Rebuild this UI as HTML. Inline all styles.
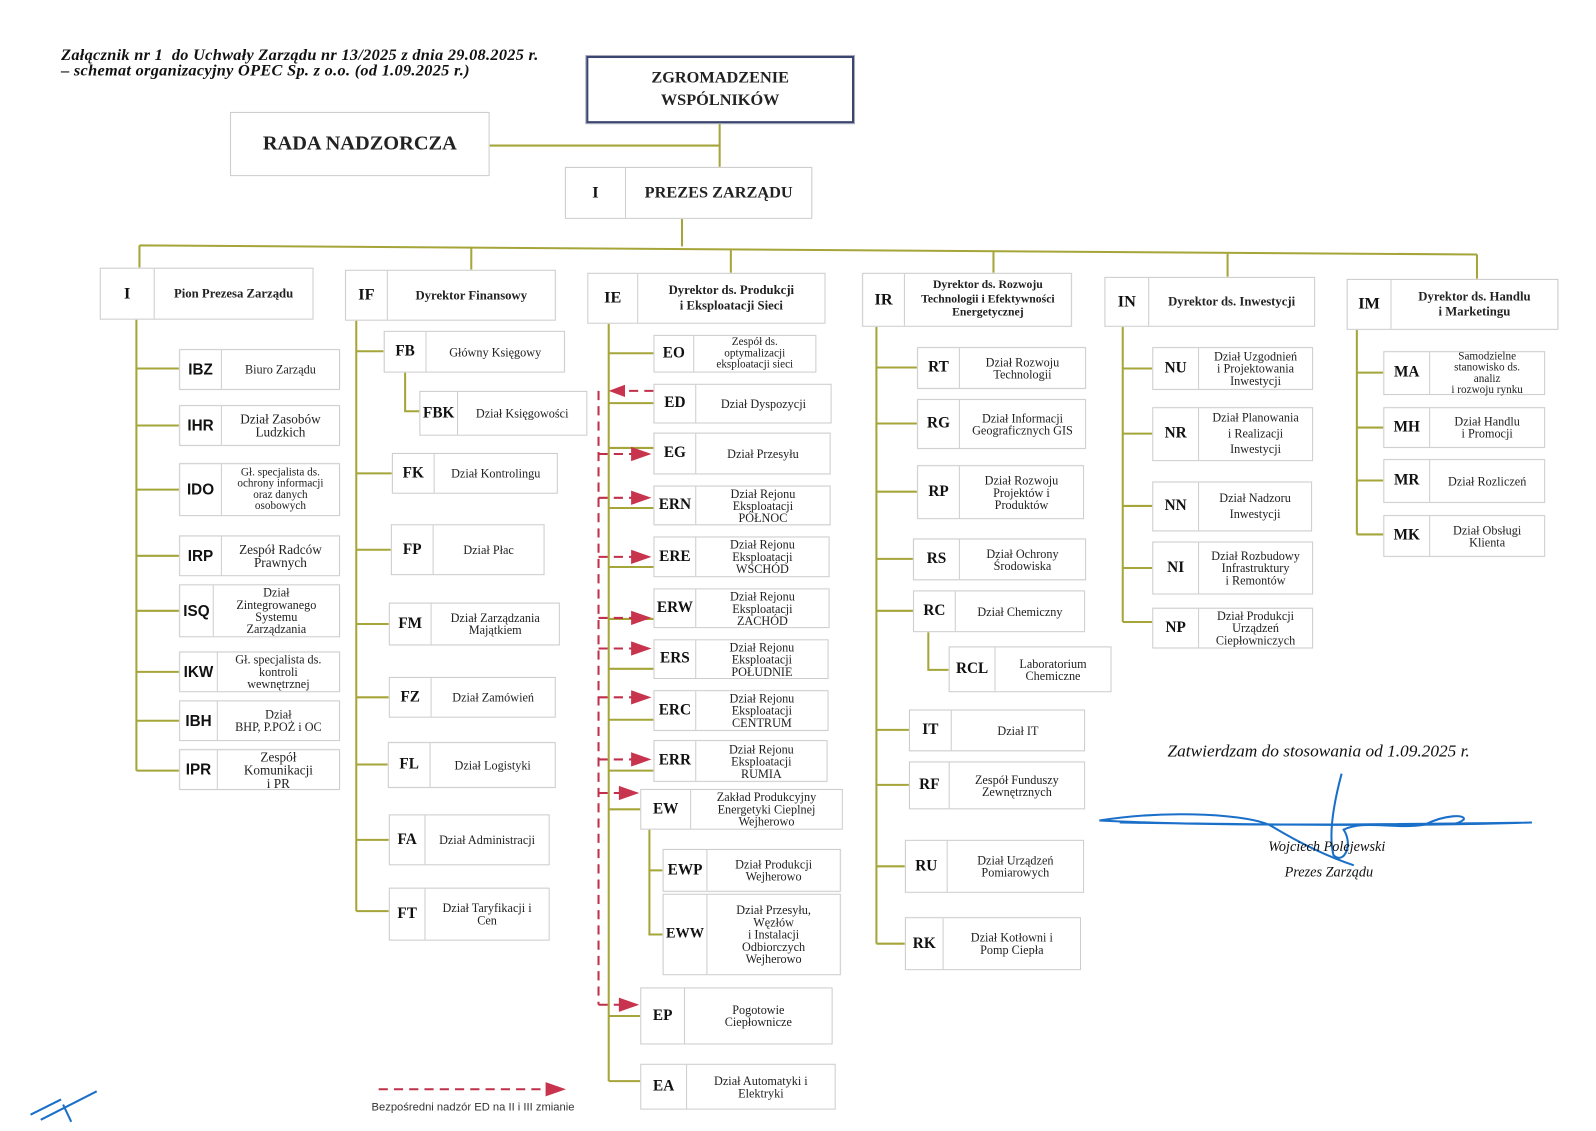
<!DOCTYPE html>
<html><head><meta charset="utf-8">
<style>
html,body{margin:0;padding:0;background:#fff;width:1596px;height:1131px;overflow:hidden}
#c{position:absolute;left:0;top:0;width:1568px;height:1111px;transform:scale(1.0179,1.018);transform-origin:0 0}
.b{position:absolute;display:flex;border:1px solid #cdcdcd;background:#fff;box-sizing:border-box;box-shadow:0 0 1px #e4e4e4}
.b i{font-style:normal;display:flex;align-items:center;justify-content:center;border-right:1px solid #cdcdcd;font:bold 15px "Liberation Serif",serif;color:#111;flex:none}
.b span{flex:1;display:flex;align-items:center;justify-content:center;text-align:center;font:12px/1.0 "Liberation Serif",serif;color:#222;padding:0 3px}
.s i{font-family:"Liberation Sans Narrow","Liberation Sans",sans-serif;font-size:15px}
.h span{font-weight:bold;font-size:12.5px;line-height:1.2}
.h i{font-size:16px}
svg{position:absolute;left:0;top:0}
.t{position:absolute;font-family:"Liberation Serif",serif;color:#111;white-space:nowrap}
</style></head><body><div id="c">
<svg width="1568" height="1111">
<g stroke="#a5a53a" stroke-width="2" fill="none">
<path d="M481 143H707M707 121V164M670 215V242M137 241L1451 250M137 241V263M463 243V265M718 245V268M976 246V268M1206 248V272M1451 250V274"/>
<path d="M134 314V757M134 362H176M134 418H176M134 481H176M134 546H176M134 600H176M134 660H176M134 708H176M134 757H176"/>
<path d="M350 315V895M350 345H377M398 366V404H412M350 465H385M350 540H384M350 613H382M350 685H382M350 751H381M350 825H382M350 895H382"/>
<path d="M598 318V1062M598 347H642M598 396H642M598 440H642M598 499H642M598 557H642M598 608H642M598 657H642M598 707H642M598 757H642M598 795H629M638 815V918H651M638 855H651M598 998H629M598 1062H629"/>
<path d="M861 321V927M861 361H901M861 416H901M861 483H901M861 549H897M861 600H897M912 621V658H932M861 717H893M861 771H893M861 851H889M861 927H889"/>
<path d="M1103 321V611M1103 362H1132M1103 426H1132M1103 497H1132M1103 558H1132M1103 611H1132"/>
<path d="M1333 324V525M1333 366H1359M1333 420H1359M1333 472H1359M1333 525H1359"/>
</g>
<g stroke="#c0304a" stroke-width="2" fill="none" stroke-dasharray="9,6">
<path d="M588 384V987M642 384H612M588 446H622M588 489H622M588 547H622M588 607H622M588 637H622M588 685H622M588 746H622M588 779H612M588 987H612M372 1070H538"/>
</g>
<g fill="#c8334d">
<path d="M598 384L614 378V390Z"/>
<path d="M640 446L620 439V453Z"/><path d="M640 489L620 482V496Z"/><path d="M640 547L620 540V554Z"/><path d="M640 607L620 600V614Z"/><path d="M640 637L620 630V644Z"/><path d="M640 685L620 678V692Z"/><path d="M640 746L620 739V753Z"/><path d="M628 779L608 772V786Z"/><path d="M628 987L608 980V994Z"/><path d="M556 1070L536 1063V1077Z"/>
</g>
<g stroke="#1a6fc9" stroke-width="2" fill="none">
<path d="M1080 806C1150 795 1230 800 1250 812S1300 840 1330 850M1080 806C1200 812 1350 810 1505 808C1380 812 1250 810 1100 808"/>
<path d="M1318 760C1310 790 1305 820 1310 840C1320 850 1330 830 1320 815C1340 805 1370 815 1400 810C1420 800 1440 800 1438 805C1430 812 1420 808 1405 810"/>
<path d="M30 1095L60 1080M40 1100L95 1072M62 1085L70 1102"/>
</g>
</svg>

<div class="t" style="left:60px;top:47px;font:italic bold 16px/15px 'Liberation Serif',serif;letter-spacing:0.3px">Załącznik nr 1&nbsp; do Uchwały Zarządu nr 13/2025 z dnia 29.08.2025 r.<br>– schemat organizacyjny OPEC Sp. z o.o. (od 1.09.2025 r.)</div>
<div class="b" style="left:576px;top:55px;width:263px;height:66px;border:2px solid #3b4670;box-shadow:0 0 0 1px #aab"><span style="font:bold 16px/1.4 'Liberation Serif',serif">ZGROMADZENIE<br>WSPÓLNIKÓW</span></div>
<div class="b" style="left:226px;top:110px;width:255px;height:63px"><span style="font:bold 20px 'Liberation Serif',serif">RADA NADZORCZA</span></div>
<div class="b h" style="left:555px;top:164px;width:243px;height:51px"><i style="width:58px">I</i><span style="font-size:16px">PREZES ZARZĄDU</span></div>

<div class="b h" style="left:98px;top:263px;width:210px;height:51px"><i style="width:52px">I</i><span>Pion Prezesa Zarządu</span></div>
<div class="b h" style="left:339px;top:265px;width:207px;height:50px"><i style="width:40px">IF</i><span>Dyrektor Finansowy</span></div>
<div class="b h" style="left:577px;top:268px;width:234px;height:50px"><i style="width:48px">IE</i><span>Dyrektor ds. Produkcji<br>i Eksploatacji Sieci</span></div>
<div class="b h" style="left:847px;top:268px;width:206px;height:53px"><i style="width:40px">IR</i><span style="font-size:11.5px">Dyrektor ds. Rozwoju<br>Technologii i Efektywności<br>Energetycznej</span></div>
<div class="b h" style="left:1085px;top:272px;width:207px;height:49px"><i style="width:42px">IN</i><span>Dyrektor ds. Inwestycji</span></div>
<div class="b h" style="left:1323px;top:274px;width:208px;height:50px"><i style="width:42px">IM</i><span>Dyrektor ds. Handlu<br>i Marketingu</span></div>

<div class="b s" style="left:176px;top:343px;width:158px;height:40px"><i style="width:40px">IBZ</i><span>Biuro Zarządu</span></div>
<div class="b s" style="left:176px;top:398px;width:158px;height:40px"><i style="width:40px">IHR</i><span style="font-size:13px">Dział Zasobów<br>Ludzkich</span></div>
<div class="b s" style="left:176px;top:455px;width:158px;height:52px"><i style="width:40px">IDO</i><span style="font-size:11px">Gł. specjalista ds.<br>ochrony informacji<br>oraz danych<br>osobowych</span></div>
<div class="b s" style="left:176px;top:526px;width:158px;height:40px"><i style="width:40px">IRP</i><span style="font-size:13px">Zespół Radców<br>Prawnych</span></div>
<div class="b s" style="left:176px;top:574px;width:158px;height:52px"><i style="width:32px">ISQ</i><span>Dział<br>Zintegrowanego<br>Systemu<br>Zarządzania</span></div>
<div class="b s" style="left:176px;top:640px;width:158px;height:40px"><i style="width:36px">IKW</i><span>Gł. specjalista ds.<br>kontroli<br>wewnętrznej</span></div>
<div class="b s" style="left:176px;top:688px;width:158px;height:40px"><i style="width:36px">IBH</i><span>Dział<br>BHP, P.POŻ i OC</span></div>
<div class="b s" style="left:176px;top:736px;width:158px;height:40px"><i style="width:36px">IPR</i><span style="font-size:13px">Zespół<br>Komunikacji<br>i PR</span></div>

<div class="b" style="left:377px;top:325px;width:178px;height:41px"><i style="width:40px">FB</i><span>Główny Księgowy</span></div>
<div class="b" style="left:412px;top:384px;width:165px;height:44px"><i style="width:36px">FBK</i><span>Dział Księgowości</span></div>
<div class="b" style="left:385px;top:445px;width:163px;height:40px"><i style="width:40px">FK</i><span>Dział Kontrolingu</span></div>
<div class="b" style="left:384px;top:515px;width:151px;height:50px"><i style="width:40px">FP</i><span>Dział Płac</span></div>
<div class="b" style="left:382px;top:592px;width:168px;height:42px"><i style="width:40px">FM</i><span>Dział Zarządzania<br>Majątkiem</span></div>
<div class="b" style="left:382px;top:665px;width:164px;height:40px"><i style="width:40px">FZ</i><span>Dział Zamówień</span></div>
<div class="b" style="left:381px;top:729px;width:165px;height:45px"><i style="width:40px">FL</i><span>Dział Logistyki</span></div>
<div class="b" style="left:382px;top:800px;width:158px;height:50px"><i style="width:34px">FA</i><span>Dział Administracji</span></div>
<div class="b" style="left:382px;top:872px;width:158px;height:52px"><i style="width:34px">FT</i><span>Dział Taryfikacji i<br>Cen</span></div>

<div class="b" style="left:642px;top:329px;width:160px;height:37px"><i style="width:38px">EO</i><span style="font-size:11px">Zespół ds.<br>optymalizacji<br>eksploatacji sieci</span></div>
<div class="b" style="left:642px;top:377px;width:175px;height:39px"><i style="width:40px">ED</i><span>Dział Dyspozycji</span></div>
<div class="b" style="left:642px;top:425px;width:174px;height:41px"><i style="width:40px">EG</i><span>Dział Przesyłu</span></div>
<div class="b" style="left:642px;top:477px;width:174px;height:39px"><i style="width:40px">ERN</i><span>Dział Rejonu<br>Eksploatacji<br>PÓŁNOC</span></div>
<div class="b" style="left:642px;top:527px;width:173px;height:40px"><i style="width:40px">ERE</i><span>Dział Rejonu<br>Eksploatacji<br>WSCHÓD</span></div>
<div class="b" style="left:642px;top:578px;width:173px;height:39px"><i style="width:40px">ERW</i><span>Dział Rejonu<br>Eksploatacji<br>ZACHÓD</span></div>
<div class="b" style="left:642px;top:628px;width:172px;height:39px"><i style="width:40px">ERS</i><span>Dział Rejonu<br>Eksploatacji<br>POŁUDNIE</span></div>
<div class="b" style="left:642px;top:678px;width:172px;height:40px"><i style="width:40px">ERC</i><span>Dział Rejonu<br>Eksploatacji<br>CENTRUM</span></div>
<div class="b" style="left:642px;top:727px;width:171px;height:41px"><i style="width:40px">ERR</i><span>Dział Rejonu<br>Eksploatacji<br>RUMIA</span></div>
<div class="b" style="left:629px;top:775px;width:199px;height:40px"><i style="width:48px">EW</i><span>Zakład Produkcyjny<br>Energetyki Cieplnej<br>Wejherowo</span></div>
<div class="b" style="left:651px;top:834px;width:175px;height:42px"><i style="width:42px">EWP</i><span>Dział Produkcji<br>Wejherowo</span></div>
<div class="b" style="left:651px;top:878px;width:175px;height:80px"><i style="width:42px;font-size:14px">EWW</i><span>Dział Przesyłu,<br>Węzłów<br>i Instalacji<br>Odbiorczych<br>Wejherowo</span></div>
<div class="b" style="left:629px;top:970px;width:189px;height:56px"><i style="width:42px">EP</i><span>Pogotowie<br>Ciepłownicze</span></div>
<div class="b" style="left:629px;top:1045px;width:192px;height:45px"><i style="width:44px">EA</i><span>Dział Automatyki i<br>Elektryki</span></div>

<div class="b" style="left:901px;top:341px;width:166px;height:41px"><i style="width:40px">RT</i><span>Dział Rozwoju<br>Technologii</span></div>
<div class="b" style="left:901px;top:392px;width:166px;height:49px"><i style="width:40px">RG</i><span>Dział Informacji<br>Geograficznych GIS</span></div>
<div class="b" style="left:901px;top:457px;width:164px;height:53px"><i style="width:40px">RP</i><span>Dział Rozwoju<br>Projektów i<br>Produktów</span></div>
<div class="b" style="left:897px;top:529px;width:170px;height:41px"><i style="width:44px">RS</i><span>Dział Ochrony<br>Środowiska</span></div>
<div class="b" style="left:897px;top:580px;width:169px;height:41px"><i style="width:40px">RC</i><span>Dział Chemiczny</span></div>
<div class="b" style="left:932px;top:635px;width:160px;height:45px"><i style="width:44px">RCL</i><span>Laboratorium<br>Chemiczne</span></div>
<div class="b" style="left:893px;top:697px;width:173px;height:41px"><i style="width:40px">IT</i><span>Dział IT</span></div>
<div class="b" style="left:893px;top:748px;width:173px;height:47px"><i style="width:38px">RF</i><span>Zespół Funduszy<br>Zewnętrznych</span></div>
<div class="b" style="left:889px;top:825px;width:176px;height:52px"><i style="width:40px">RU</i><span>Dział Urządzeń<br>Pomiarowych</span></div>
<div class="b" style="left:889px;top:901px;width:173px;height:52px"><i style="width:36px">RK</i><span>Dział Kotłowni i<br>Pomp Ciepła</span></div>

<div class="b" style="left:1132px;top:341px;width:158px;height:42px"><i style="width:44px">NU</i><span>Dział Uzgodnień<br>i Projektowania<br>Inwestycji</span></div>
<div class="b" style="left:1132px;top:400px;width:158px;height:53px"><i style="width:44px">NR</i><span style="line-height:1.3">Dział Planowania<br>i Realizacji<br>Inwestycji</span></div>
<div class="b" style="left:1132px;top:473px;width:157px;height:49px"><i style="width:44px">NN</i><span style="line-height:1.3">Dział Nadzoru<br>Inwestycji</span></div>
<div class="b" style="left:1132px;top:532px;width:158px;height:52px"><i style="width:44px">NI</i><span>Dział Rozbudowy<br>Infrastruktury<br>i Remontów</span></div>
<div class="b" style="left:1132px;top:597px;width:158px;height:40px"><i style="width:44px">NP</i><span>Dział Produkcji<br>Urządzeń<br>Ciepłowniczych</span></div>

<div class="b" style="left:1359px;top:345px;width:159px;height:43px"><i style="width:44px">MA</i><span style="font-size:11px">Samodzielne<br>stanowisko ds.<br>analiz<br>i rozwoju rynku</span></div>
<div class="b" style="left:1359px;top:400px;width:159px;height:40px"><i style="width:44px">MH</i><span>Dział Handlu<br>i Promocji</span></div>
<div class="b" style="left:1359px;top:451px;width:159px;height:43px"><i style="width:44px">MR</i><span>Dział Rozliczeń</span></div>
<div class="b" style="left:1359px;top:506px;width:159px;height:41px"><i style="width:44px">MK</i><span>Dział Obsługi<br>Klienta</span></div>

<div class="t" style="left:1147px;top:728px;font:italic 17px 'Liberation Serif',serif">Zatwierdzam do stosowania od 1.09.2025 r.</div>
<div class="t" style="left:1246px;top:825px;font:italic 14px 'Liberation Serif',serif">Wojciech Polejewski</div>
<div class="t" style="left:1262px;top:850px;font:italic 14px 'Liberation Serif',serif">Prezes Zarządu</div>
<div class="t" style="left:365px;top:1082px;font:11px 'Liberation Sans',sans-serif;color:#333">Bezpośredni nadzór ED na II i III zmianie</div>
</div></body></html>
